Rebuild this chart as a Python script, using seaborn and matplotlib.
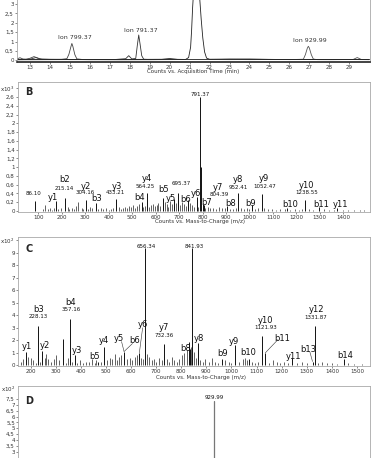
"""
LC-MS figure: extracted ion chromatogram (A) + MS/MS spectra (B, C, D)
"""
import matplotlib
matplotlib.use("Agg")
import matplotlib.pyplot as plt
import seaborn as sns

sns.set_style("white")
plt.rcParams["font.family"] = ["DejaVu Sans"]

# ---------------- panel A: chromatogram traces (time min, counts x10^?) ----------------
A_T1 = [12.35, 12.5, 12.65, 12.8, 13.0, 13.2, 13.4, 13.6, 14.0, 14.6, 14.85, 14.95, 15.05, 15.1,
        15.15, 15.25, 15.35, 15.6, 17.0, 19.0, 21.0, 24.0, 27.0, 30.0]
A_Y1 = [0.08, 0.14, 0.07, 0.06, 0.11, 0.2, 0.12, 0.06, 0.05, 0.06, 0.09, 0.32, 0.72, 0.9,
        0.74, 0.3, 0.08, 0.05, 0.05, 0.04, 0.05, 0.04, 0.05, 0.04]
A_T2 = [12.35, 13.0, 13.3, 13.5, 15.0, 17.3, 17.8, 17.95, 18.1, 18.3, 18.38, 18.45, 18.52,
        18.6, 18.7, 18.9, 19.6, 20.0, 20.4, 23.0, 26.0, 30.0]
A_Y2 = [0.05, 0.06, 0.15, 0.07, 0.04, 0.05, 0.09, 0.25, 0.08, 0.1, 0.8, 1.35, 0.85,
        0.25, 0.06, 0.05, 0.05, 0.1, 0.05, 0.04, 0.05, 0.04]
A_T3 = [12.35, 14.0, 16.0, 18.0, 20.0, 20.8, 20.95, 21.05, 21.1, 21.15, 21.22, 21.32, 21.42,
        21.5, 21.58, 21.66, 21.75, 21.85, 22.0, 23.0, 25.0, 28.0, 30.0]
A_Y3 = [0.04, 0.05, 0.04, 0.05, 0.06, 0.05, 0.15, 0.7, 1.6, 2.8, 4.0, 4.5, 4.2,
        3.4, 2.2, 1.2, 0.45, 0.12, 0.06, 0.07, 0.05, 0.04, 0.05]
A_T4 = [12.35, 15.0, 17.5, 20.0, 22.5, 24.0, 26.0, 26.7, 26.8, 26.9, 26.95, 27.0, 27.1,
        27.2, 27.4, 28.5, 29.2, 29.4, 29.6, 30.0]
A_Y4 = [0.03, 0.04, 0.03, 0.04, 0.05, 0.07, 0.04, 0.06, 0.3, 0.65, 0.75, 0.66, 0.3,
        0.07, 0.04, 0.04, 0.05, 0.15, 0.05, 0.04]
A_LABELS = ["Ion 799.37", "Ion 791.37", "Ion 929.99"]
A_TICKS = list(range(13, 30))
A_YTICKS = [0, 0.5, 1, 1.5, 2, 2.5, 3]

# ---------------- panel B: MS/MS of 791.37 (m/z, counts x10^3) ----------------
B_MZ = [86.10, 175, 215.14, 304.16, 345, 433.21, 540, 564.25, 630, 680, 695.37, 740,
        775, 791.37, 793.0, 800, 804.39, 905, 952.41, 1010, 1052.47, 1160, 1238.55, 1295, 1375]
B_INT = [0.22, 0.22, 0.3, 0.25, 0.18, 0.27, 0.2, 0.42, 0.3, 0.28, 0.42, 0.25,
         0.33, 2.6, 1.0, 0.17, 0.14, 0.12, 0.41, 0.13, 0.39, 0.08, 0.25, 0.1, 0.06]
B_NOISE_MZ = [120, 130, 141, 150, 158, 168, 186, 196, 226, 233, 242, 252, 262, 271, 285, 292,
              312, 320, 327, 356, 368, 376, 389, 401, 412, 420, 445, 452, 461, 470, 478, 488,
              497, 505, 512, 520, 528, 548, 556, 572, 580, 588, 596, 604, 612, 620, 640, 648,
              655, 663, 672, 688, 702, 712, 720, 728, 748, 756, 764, 782, 812, 822, 834, 846,
              858, 872, 884, 896, 918, 930, 944, 962, 975, 988, 998, 1022, 1036, 1064, 1080,
              1098, 1115, 1130, 1150, 1172, 1195, 1210, 1225, 1252, 1270, 1318, 1340, 1360,
              1398, 1420, 1445, 1470, 1490]
B_NOISE_INT = [0.04, 0.13, 0.05, 0.06, 0.03, 0.08, 0.05, 0.07, 0.09, 0.05, 0.07, 0.04, 0.12,
               0.2, 0.06, 0.05, 0.04, 0.1, 0.06, 0.05, 0.08, 0.04, 0.06, 0.03, 0.05, 0.07, 0.09,
               0.05, 0.08, 0.1, 0.06, 0.12, 0.09, 0.14, 0.08, 0.11, 0.15, 0.09, 0.12, 0.1, 0.14,
               0.16, 0.11, 0.13, 0.18, 0.12, 0.2, 0.15, 0.1, 0.22, 0.17, 0.19, 0.14, 0.21, 0.16,
               0.12, 0.18, 0.14, 0.1, 0.09, 0.08, 0.1, 0.06, 0.07, 0.05, 0.09, 0.06, 0.08, 0.05,
               0.04, 0.07, 0.06, 0.05, 0.08, 0.05, 0.04, 0.06, 0.07, 0.04, 0.05, 0.03, 0.04,
               0.05, 0.03, 0.04, 0.03, 0.05, 0.04, 0.03, 0.04, 0.03, 0.02, 0.03, 0.02, 0.03,
               0.02, 0.02]
# (text, m/z, y, size)
B_ANN = [("86.10", 79, 0.39, 4), ("y1", 164, 0.3, 6), ("b2", 210, 0.72, 6), ("215.14", 210, 0.51, 4),
         ("y2", 302, 0.57, 6), ("304.16", 302, 0.42, 4), ("b3", 349, 0.28, 6), ("y3", 434, 0.57, 6),
         ("433.21", 427, 0.42, 4), ("b4", 533, 0.31, 6), ("y4", 562, 0.74, 6), ("564.25", 555, 0.55, 4),
         ("b5", 633, 0.48, 6), ("695.37", 711, 0.63, 4), ("y5", 666, 0.29, 6), ("b6", 730, 0.27, 6),
         ("y6", 772, 0.4, 6), ("b7", 818, 0.2, 6), ("y7", 865, 0.54, 6), ("804.39", 871, 0.37, 4),
         ("b8", 921, 0.18, 6), ("y8", 952, 0.72, 6), ("952.41", 952, 0.54, 4), ("b9", 1004, 0.18, 6),
         ("y9", 1061, 0.75, 6), ("1052.47", 1066, 0.55, 4), ("b10", 1174, 0.16, 6),
         ("y10", 1244, 0.59, 6), ("1238.55", 1245, 0.42, 4), ("b11", 1305, 0.16, 6),
         ("y11", 1387, 0.14, 6), ("791.37", 789, 2.65, 4)]
B_YTICKS = [0, 0.2, 0.4, 0.6, 0.8, 1, 1.2, 1.4, 1.6, 1.8, 2, 2.2, 2.4, 2.6, 2.8]
B_XTICKS = list(range(100, 1500, 100))

# ---------------- panel C: MS/MS (m/z, counts x10^2) ----------------
C_MZ = [180, 228.13, 245, 330, 357.16, 375, 470, 493, 572, 633, 656.34, 732.36,
        830, 835, 841.93, 865, 962, 1014, 1068, 1121.93, 1135, 1240, 1323, 1331.87, 1450]
C_INT = [1.05, 3.15, 1.15, 2.1, 3.7, 0.8, 0.3, 1.5, 1.1, 1.0, 9.35, 1.7,
         1.9, 1.3, 9.4, 1.8, 0.5, 1.6, 0.5, 2.35, 1.0, 0.55, 0.3, 3.15, 0.5]
C_NOISE_MZ = [160, 170, 190, 200, 210, 220, 236, 255, 262, 270, 282, 292, 300, 312, 340, 348,
              366, 385, 395, 410, 420, 432, 445, 455, 462, 480, 505, 515, 525, 535, 545, 552,
              560, 585, 595, 605, 615, 622, 640, 648, 665, 672, 682, 692, 700, 712, 722, 742,
              752, 762, 772, 782, 792, 802, 812, 822, 838, 850, 858, 875, 885, 895, 910, 922,
              935, 948, 975, 990, 1000, 1030, 1045, 1055, 1060, 1080, 1095, 1105, 1150, 1165,
              1180, 1195, 1210, 1225, 1260, 1280, 1300, 1345, 1360, 1380, 1400, 1420, 1465,
              1490, 1520]
C_NOISE_INT = [0.3, 0.5, 0.7, 0.6, 0.4, 0.2, 0.3, 0.6, 0.9, 0.5, 0.3, 0.5, 0.8, 0.4, 0.2, 0.6,
               0.3, 0.2, 0.4, 0.2, 0.3, 0.3, 0.5, 0.2, 0.4, 0.3, 0.4, 0.6, 0.5, 0.9, 0.4, 0.7,
               0.8, 0.5, 0.6, 0.4, 0.7, 0.8, 0.6, 0.5, 0.9, 0.7, 0.4, 0.5, 0.3, 0.6, 0.4, 0.5,
               0.3, 0.7, 0.4, 0.3, 0.5, 0.8, 1.0, 1.2, 1.5, 1.1, 0.6, 0.4, 0.3, 0.5, 0.3, 0.6,
               0.3, 0.2, 0.4, 0.3, 0.2, 0.3, 0.5, 0.6, 0.4, 0.3, 0.2, 0.3, 0.2, 0.4, 0.3, 0.2,
               0.3, 0.2, 0.2, 0.3, 0.2, 0.2, 0.3, 0.2, 0.2, 0.1, 0.2, 0.1, 0.1]
C_ANN = [("y1", 184, 1.49, 6), ("b3", 230, 4.48, 6), ("228.13", 230, 3.9, 4), ("y2", 257, 1.62, 6),
         ("b4", 360, 5.04, 6), ("357.16", 360, 4.48, 4), ("y3", 386, 1.22, 6), ("b5", 456, 0.69, 6),
         ("y4", 493, 1.97, 6), ("y5", 553, 2.16, 6), ("b6", 616, 1.97, 6), ("y6", 649, 3.28, 6),
         ("656.34", 662, 9.5, 4), ("y7", 732, 3.04, 6), ("732.36", 732, 2.42, 4), ("b8", 819, 1.36, 6),
         ("841.93", 853, 9.5, 4), ("y8", 872, 2.16, 6), ("b9", 965, 0.96, 6), ("y9", 1011, 1.89, 6),
         ("b10", 1068, 1.0, 6), ("y10", 1135, 3.62, 6), ("1121.93", 1135, 3.04, 4),
         ("b11", 1204, 2.16, 6), ("y11", 1248, 0.69, 6), ("b13", 1307, 1.3, 6),
         ("y12", 1337, 4.48, 6), ("1331.87", 1337, 3.84, 4), ("b14", 1454, 0.82, 6)]
# leader lines (x0, y0, x1, y1) in data units
C_LEADERS = [(562, 1.9, 572, 1.1), (606, 1.75, 572, 1.1), (646, 3.0, 633, 1.0),
             (1185, 2.05, 1135, 1.0), (1312, 1.1, 1323, 0.3)]
C_YTICKS = list(range(0, 11))
C_XTICKS = list(range(200, 1600, 100))

# ---------------- panel D ----------------
D_MZ = [929.99]
D_INT = [7.3]
D_YTICKS = [3, 3.5, 4, 4.5, 5, 5.5, 6, 6.5, 7, 7.5]

W, H = 372, 458
FRAME = "#a8a8a8"


def fmt(v):
    s = ("%g" % v).replace(".", ",")
    return s


def style_axes(ax, frame_bottom=FRAME):
    for side in ["top", "right", "left"]:
        ax.spines[side].set_color(FRAME)
        ax.spines[side].set_linewidth(0.6)
    ax.spines["bottom"].set_color(frame_bottom)
    ax.spines["bottom"].set_linewidth(0.6)
    ax.tick_params(axis="both", labelsize=4, length=1.5, width=0.4, pad=0.8,
                   colors="#333333", direction="out", left=True, bottom=True)


def px_axes(fig, left, top, right, bottom):
    return fig.add_axes([left / W, 1 - bottom / H, (right - left) / W, (bottom - top) / H])


fig = plt.figure(figsize=(W / 100, H / 100), dpi=100)

# ---- A ----
axA = px_axes(fig, 17, -33.6, 370, 61.5)
for t, y, c in [(A_T4, A_Y4, "#555555"), (A_T2, A_Y2, "#333333"),
                (A_T1, A_Y1, "#444444"), (A_T3, A_Y3, "#222222")]:
    sns.lineplot(x=t, y=y, ax=axA, color=c, lw=0.6, estimator=None, sort=False)
axA.set_xlim(12.35, 30.04)
axA.set_ylim(-0.06, 5.0)
style_axes(axA, frame_bottom="#222222")
axA.spines["bottom"].set_linewidth(1.2)
axA.set_xticks(A_TICKS)
axA.set_xticklabels([str(v) for v in A_TICKS])
axA.set_yticks(A_YTICKS)
axA.set_yticklabels([fmt(v) for v in A_YTICKS])
for txt, x, y in zip(A_LABELS, [15.26, 18.55, 27.03], [1.22, 1.57, 1.04]):
    axA.text(x, y, txt, fontsize=4.5, ha="center", va="center", color="#333333")
fig.text(193 / W, 1 - 71 / H, "Counts vs. Acquisition Time (min)", fontsize=4,
         ha="center", va="center", color="#333333")


def spectrum(ax, mz, inten, nmz, nint, ann, xlim, ylim, yticks, expo, xticks):
    ax.vlines(nmz, 0, nint, color="#222222", lw=0.5)
    ax.vlines(mz, 0, inten, color="#111111", lw=0.7)
    ax.set_xlim(*xlim)
    ax.set_ylim(*ylim)
    style_axes(ax)
    ax.set_yticks(yticks)
    labels = [fmt(v) for v in yticks]
    if expo is not None:
        labels[-1] = "x10$^{%d}$" % expo
    ax.set_yticklabels(labels)
    if xticks is not None:
        ax.set_xticks(xticks)
        ax.set_xticklabels([str(v) for v in xticks])
    for txt, x, y, s in ann:
        ax.text(x, y, txt, fontsize=s, ha="center", va="center", color="#111111")


# ---- B ----
axB = px_axes(fig, 18, 82, 370, 211.5)
spectrum(axB, B_MZ, B_INT, B_NOISE_MZ, B_NOISE_INT, B_ANN, (13.5, 1514),
         (-0.011, 2.945), B_YTICKS, 3, B_XTICKS)
axB.text(0.02, 0.9, "B", transform=axB.transAxes, fontsize=7, fontweight="bold")
fig.text(200 / W, 1 - 222 / H, "Counts vs. Mass-to-Charge (m/z)", fontsize=4,
         ha="center", va="center", color="#333333")

# ---- C ----
axC = px_axes(fig, 18, 237, 370, 365.5)
spectrum(axC, C_MZ, C_INT, C_NOISE_MZ, C_NOISE_INT, C_ANN, (149.4, 1552),
         (-0.016, 10.26), C_YTICKS, 2, C_XTICKS)
for x0, y0, x1, y1 in C_LEADERS:
    axC.plot([x0, x1], [y0, y1], color="#333333", lw=0.4)
axC.text(0.02, 0.88, "C", transform=axC.transAxes, fontsize=7, fontweight="bold")
fig.text(201 / W, 1 - 377 / H, "Counts vs. Mass-to-Charge (m/z)", fontsize=4,
         ha="center", va="center", color="#333333")

# ---- D ----
axD = px_axes(fig, 18, 386, 370, 486.75)
spectrum(axD, D_MZ, D_INT, [], [], [("929.99", 929.99, 7.62, 4)], (149.4, 1552),
         (0, 8.61), D_YTICKS, None, None)
axD.vlines(D_MZ, 0, D_INT, color="#777777", lw=0.9)
axD.set_xticks([])
axD.text(-0.008, 8.3, "x10$^{2}$", transform=axD.get_yaxis_transform(), fontsize=4,
         ha="right", va="center", color="#333333")
axD.text(0.02, 0.82, "D", transform=axD.transAxes, fontsize=7, fontweight="bold")

fig.savefig("out.png", dpi=100)
